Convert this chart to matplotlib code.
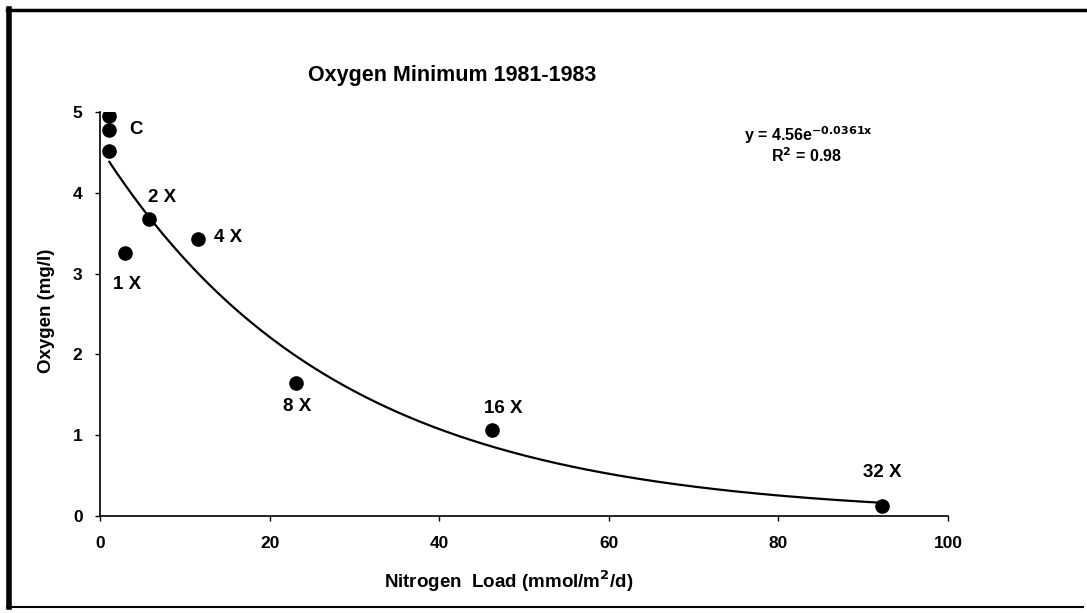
import numpy as np
import matplotlib
matplotlib.use("Agg")
import matplotlib.pyplot as plt
from matplotlib.lines import Line2D

# ---- data ----
nitrogen = [1.1, 1.1, 1.1, 2.9, 5.8, 11.5, 23.1, 46.2, 92.2]
oxygen = [4.95, 4.78, 4.52, 3.26, 3.68, 3.43, 1.65, 1.07, 0.12]
treatments = ["", "C", "", "1 X", "2 X", "4 X", "8 X", "16 X", "32 X"]
fit_a = 4.56
fit_b = -0.0361
r2 = 0.98
x_ticks = [0, 20, 40, 60, 80, 100]
y_ticks = [0, 1, 2, 3, 4, 5]

# label offsets in pixels (layout)
offsets = [None, (27, 0), None, (2, -32), (13, 21), (31, 1), (1, -24), (11, 21), (0, 34)]

plt.rcParams['font.family'] = ['Liberation Sans', 'DejaVu Sans']
plt.rcParams['font.weight'] = 'bold'
plt.rcParams['mathtext.default'] = 'bf'

W, H = 1087, 613
fig = plt.figure(figsize=(W/100, H/100), dpi=100)
fig.patch.set_facecolor('white')
ax = fig.add_axes([100/W, (H-516)/H, 848/W, (516-112)/H])

xs = np.linspace(min(nitrogen), max(nitrogen), 300)
ax.plot(xs, fit_a*np.exp(fit_b*xs), color='black', lw=1.6, zorder=2)
ax.plot(nitrogen, oxygen, 'o', color='black', markersize=9.5, zorder=3)

for x, y, lab, off in zip(nitrogen, oxygen, treatments, offsets):
    if lab and off:
        ax.annotate(lab, (x, y), xytext=off, textcoords='offset pixels',
                    ha='center', va='center', fontsize=13.5, fontweight='bold')

ax.set_xlim(0, 100)
ax.set_ylim(0, 5)
ax.set_xticks(x_ticks)
ax.set_yticks(y_ticks)
ax.tick_params(direction='out', length=3.6, width=1, labelsize=12.5)
ax.tick_params(axis='x', pad=11)
ax.tick_params(axis='y', pad=9)
for lab in ax.get_xticklabels() + ax.get_yticklabels():
    lab.set_fontweight('bold')
for s in ['top', 'right']:
    ax.spines[s].set_visible(False)
for s in ['left', 'bottom']:
    ax.spines[s].set_linewidth(1.2)

ax.set_xlabel("Nitrogen  Load (mmol/m$^{2}$/d)", fontsize=13.5, fontweight='bold')
ax.set_ylabel("Oxygen (mg/l)", fontsize=13.5, fontweight='bold')
ax.xaxis.set_label_coords((509-100)/848, (516-568)/404)
ax.yaxis.set_label_coords((55-100)/848, (516-311)/404)

fig.text(452/W, 1-75/H, "Oxygen Minimum 1981-1983", ha='center', va='center',
         fontsize=15.5, fontweight='bold')

fig.text(808/W, 1-135/H, r"y = 4.56e$^{-0.0361x}$", ha='center', va='center',
         fontsize=11.5, fontweight='bold')
fig.text(806/W, 1-156/H, f"R$^{{2}}$ = {r2:.2f}", ha='center', va='center',
         fontsize=11.5, fontweight='bold')

# figure border
fig.add_artist(Line2D([9/W, 9/W], [1-9/H, 1-607/H], transform=fig.transFigure, color='black', lw=4))
fig.add_artist(Line2D([7/W, 1.0], [1-10/H, 1-10/H], transform=fig.transFigure, color='black', lw=2.5))
fig.add_artist(Line2D([7/W, 1083/W], [1-607/H, 1-607/H], transform=fig.transFigure, color='black', lw=1.5))

fig.savefig("out.png", dpi=100, facecolor='white')
